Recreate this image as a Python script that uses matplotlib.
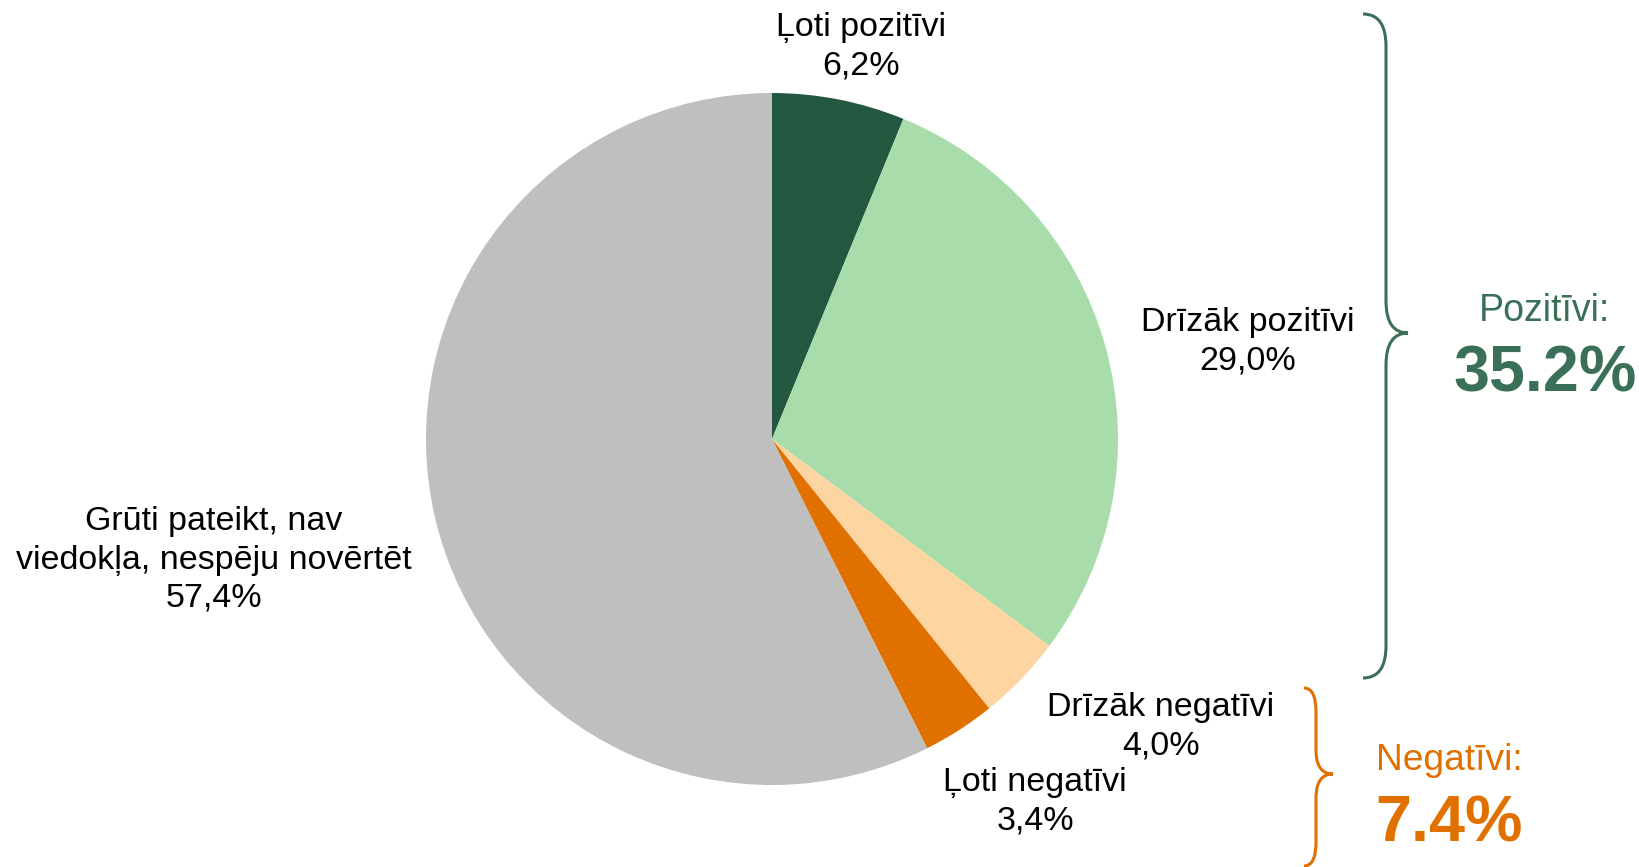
import matplotlib.pyplot as plt
from matplotlib.path import Path
from matplotlib.patches import PathPatch

plt.rcParams['font.family'] = ['Liberation Sans', 'DejaVu Sans']

# Data
labels = ['Ļoti pozitīvi', 'Drīzāk pozitīvi', 'Drīzāk negatīvi', 'Ļoti negatīvi',
          'Grūti pateikt, nav\nviedokļa, nespēju novērtēt']
values = [6.2, 29.0, 4.0, 3.4, 57.4]
colors = ['#245740', '#A8DCAB', '#FDD5A0', '#E07000', '#BFBFBF']
pos_total = '35.2%'
neg_total = '7.4%'

W, H = 1640, 867
fig = plt.figure(figsize=(W / 100, H / 100), dpi=100)
ax = fig.add_axes([0, 0, 1, 1])

def Y(y):
    # pixel row (from top) -> data y
    return H - y

ax.pie(values, colors=colors, startangle=90, counterclock=False,
       center=(772, Y(439)), radius=346, wedgeprops=dict(linewidth=0),
       frame=True)
ax.set_xlim(0, W)
ax.set_ylim(0, H)
ax.set_aspect('equal')
ax.axis('off')

# Slice labels
label_pos = [(861, 47), (1248, 342), (1161, 727), (1035, 802), (214, 560)]
for lab, v, (x, y) in zip(labels, values, label_pos):
    txt = lab + '\n' + ('%.1f%%' % v).replace('.', ',')
    ax.text(x, Y(y), txt, ha='center', va='center', fontsize=24.5,
            linespacing=1.3, color='black')


def brace(x0, x1, x2, yt, ym, yb, r, color):
    verts = [(x0, yt), (x1, yt), (x1, yt + r),
             (x1, ym - r), (x1, ym), (x2, ym),
             (x1, ym), (x1, ym + r),
             (x1, yb - r), (x1, yb), (x0, yb)]
    codes = [Path.MOVETO, Path.CURVE3, Path.CURVE3,
             Path.LINETO, Path.CURVE3, Path.CURVE3,
             Path.CURVE3, Path.CURVE3,
             Path.LINETO, Path.CURVE3, Path.CURVE3]
    verts = [(x, Y(y)) for x, y in verts]
    ax.add_patch(PathPatch(Path(verts, codes), fill=False, edgecolor=color,
                           linewidth=2.2, capstyle='butt'))


green = '#3A7058'
orange = '#E07000'
brace(1363, 1386, 1408, 14, 333, 678, 32, green)
brace(1304, 1316, 1333, 688, 774, 866, 24, orange)

ax.text(1545, Y(311), 'Pozitīvi:', ha='center', va='center', fontsize=27, color=green)
ax.text(1545, Y(375), pos_total, ha='center', va='center', fontsize=46.5,
        fontweight='bold', color=green)
ax.text(1449, Y(761), 'Negatīvi:', ha='center', va='center', fontsize=26.7, color=orange)
ax.text(1449, Y(824), neg_total, ha='center', va='center', fontsize=46.5,
        fontweight='bold', color=orange)

plt.savefig('out.png', dpi=100)
plt.close()
